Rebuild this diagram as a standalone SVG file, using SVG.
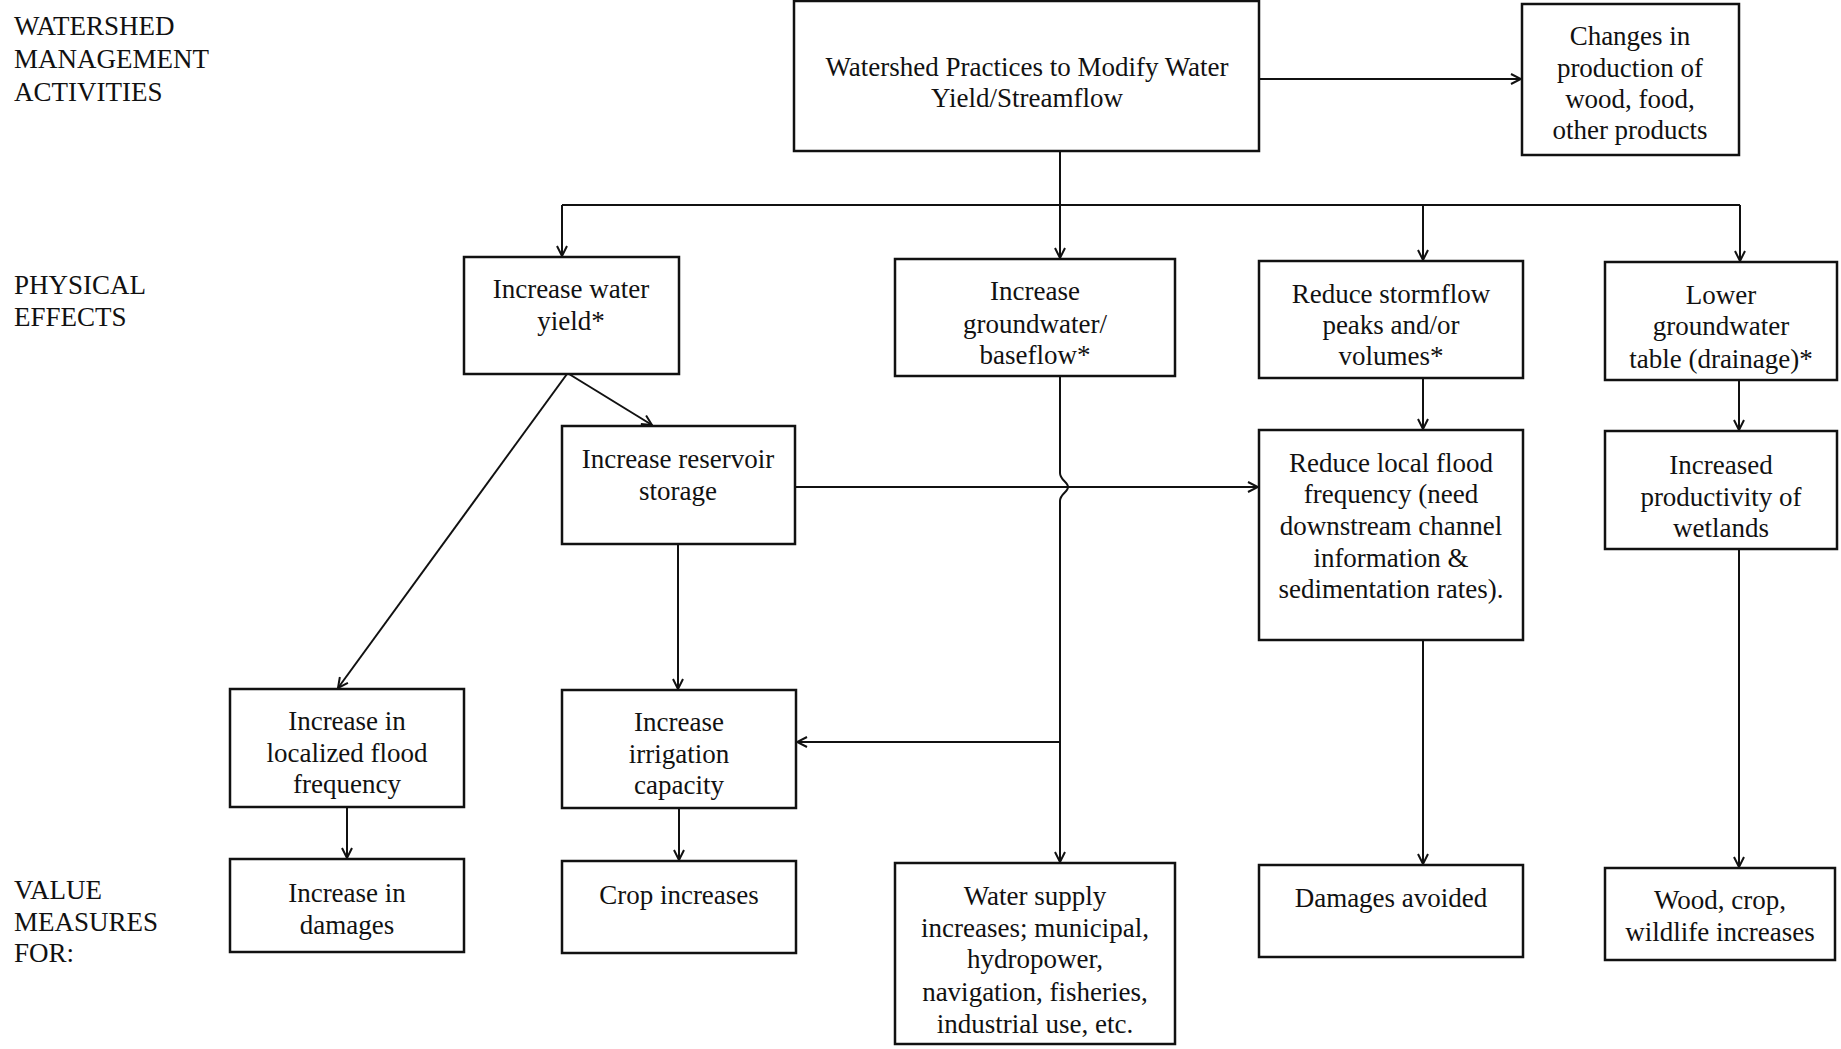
<svg xmlns="http://www.w3.org/2000/svg" width="1841" height="1049" viewBox="0 0 1841 1049">
<defs>
<style>
.box{fill:#fff;stroke:#111;stroke-width:2.5}
text{font-family:"Liberation Serif","Times New Roman",serif;font-size:27px;fill:#111}
.c{text-anchor:middle}
.ln{fill:none;stroke:#111;stroke-width:2}
</style>
<marker id="arr" viewBox="0 0 12 12" refX="11" refY="6" markerWidth="12" markerHeight="12" markerUnits="userSpaceOnUse" orient="auto">
<path d="M1,1 L11,6 L1,11" fill="none" stroke="#111" stroke-width="2"/>
</marker>
</defs>
<rect width="1841" height="1049" fill="#fff"/>
<g id="labels">
<text x="14" y="35">WATERSHED</text>
<text x="14" y="68">MANAGEMENT</text>
<text x="14" y="101">ACTIVITIES</text>
<text x="14" y="294">PHYSICAL</text>
<text x="14" y="326">EFFECTS</text>
<text x="14" y="899">VALUE</text>
<text x="14" y="931">MEASURES</text>
<text x="14" y="962">FOR:</text>
</g>
<g id="connectors">
<line class="ln" x1="1259" y1="79" x2="1521" y2="79" marker-end="url(#arr)"/>
<path class="ln" d="M1060,151 V258" marker-end="url(#arr)"/>
<path class="ln" d="M562,205 H1740"/>
<path class="ln" d="M562,205 V256" marker-end="url(#arr)"/>
<path class="ln" d="M1423,205 V260" marker-end="url(#arr)"/>
<path class="ln" d="M1740,205 V261" marker-end="url(#arr)"/>
<path class="ln" d="M569,374 L652,425" marker-end="url(#arr)"/>
<path class="ln" d="M567,374 L338,688" marker-end="url(#arr)"/>
<path class="ln" d="M678,544 V689" marker-end="url(#arr)"/>
<path class="ln" d="M795,487 H1258" marker-end="url(#arr)"/>
<path class="ln" d="M1060,376 V473 C1060,480 1068,482 1068,487 C1068,492 1060,494 1060,501 V862" marker-end="url(#arr)"/>
<path class="ln" d="M1060,742 H797" marker-end="url(#arr)"/>
<path class="ln" d="M347,807 V858" marker-end="url(#arr)"/>
<path class="ln" d="M679,808 V860" marker-end="url(#arr)"/>
<path class="ln" d="M1423,378 V429" marker-end="url(#arr)"/>
<path class="ln" d="M1423,640 V864" marker-end="url(#arr)"/>
<path class="ln" d="M1739,380 V430" marker-end="url(#arr)"/>
<path class="ln" d="M1739,549 V867" marker-end="url(#arr)"/>
</g>
<g id="n-main"><rect class="box" x="794" y="1" width="465" height="150"/>
<text class="c" x="1027" y="76">Watershed Practices to Modify Water</text>
<text class="c" x="1027" y="107">Yield/Streamflow</text></g>
<g id="n-changes"><rect class="box" x="1522" y="4" width="217" height="151"/>
<text class="c" x="1630" y="45">Changes in</text>
<text class="c" x="1630" y="77">production of</text>
<text class="c" x="1630" y="108">wood, food,</text>
<text class="c" x="1630" y="139">other products</text></g>
<g id="n-yield"><rect class="box" x="464" y="257" width="215" height="117"/>
<text class="c" x="571" y="298">Increase water</text>
<text class="c" x="571" y="330">yield*</text></g>
<g id="n-groundwater"><rect class="box" x="895" y="259" width="280" height="117"/>
<text class="c" x="1035" y="300">Increase</text>
<text class="c" x="1035" y="333">groundwater/</text>
<text class="c" x="1035" y="364">baseflow*</text></g>
<g id="n-stormflow"><rect class="box" x="1259" y="261" width="264" height="117"/>
<text class="c" x="1391" y="303">Reduce stormflow</text>
<text class="c" x="1391" y="334">peaks and/or</text>
<text class="c" x="1391" y="365">volumes*</text></g>
<g id="n-lower"><rect class="box" x="1605" y="262" width="232" height="118"/>
<text class="c" x="1721" y="304">Lower</text>
<text class="c" x="1721" y="335">groundwater</text>
<text class="c" x="1721" y="368">table (drainage)*</text></g>
<g id="n-reservoir"><rect class="box" x="562" y="426" width="233" height="118"/>
<text class="c" x="678" y="468">Increase reservoir</text>
<text class="c" x="678" y="500">storage</text></g>
<g id="n-localflood"><rect class="box" x="1259" y="430" width="264" height="210"/>
<text class="c" x="1391" y="472">Reduce local flood</text>
<text class="c" x="1391" y="503">frequency (need</text>
<text class="c" x="1391" y="535">downstream channel</text>
<text class="c" x="1391" y="567">information &amp;</text>
<text class="c" x="1391" y="598">sedimentation rates).</text></g>
<g id="n-wetlands"><rect class="box" x="1605" y="431" width="232" height="118"/>
<text class="c" x="1721" y="474">Increased</text>
<text class="c" x="1721" y="506">productivity of</text>
<text class="c" x="1721" y="537">wetlands</text></g>
<g id="n-localized"><rect class="box" x="230" y="689" width="234" height="118"/>
<text class="c" x="347" y="730">Increase in</text>
<text class="c" x="347" y="762">localized flood</text>
<text class="c" x="347" y="793">frequency</text></g>
<g id="n-irrigation"><rect class="box" x="562" y="690" width="234" height="118"/>
<text class="c" x="679" y="731">Increase</text>
<text class="c" x="679" y="763">irrigation</text>
<text class="c" x="679" y="794">capacity</text></g>
<g id="n-damages"><rect class="box" x="230" y="859" width="234" height="93"/>
<text class="c" x="347" y="902">Increase in</text>
<text class="c" x="347" y="934">damages</text></g>
<g id="n-crop"><rect class="box" x="562" y="861" width="234" height="92"/>
<text class="c" x="679" y="904">Crop increases</text></g>
<g id="n-watersupply"><rect class="box" x="895" y="863" width="280" height="181"/>
<text class="c" x="1035" y="905">Water supply</text>
<text class="c" x="1035" y="937">increases; municipal,</text>
<text class="c" x="1035" y="968">hydropower,</text>
<text class="c" x="1035" y="1001">navigation, fisheries,</text>
<text class="c" x="1035" y="1033">industrial use, etc.</text></g>
<g id="n-avoided"><rect class="box" x="1259" y="865" width="264" height="92"/>
<text class="c" x="1391" y="907">Damages avoided</text></g>
<g id="n-wood"><rect class="box" x="1605" y="868" width="230" height="92"/>
<text class="c" x="1720" y="909">Wood, crop,</text>
<text class="c" x="1720" y="941">wildlife increases</text></g>
</svg>
